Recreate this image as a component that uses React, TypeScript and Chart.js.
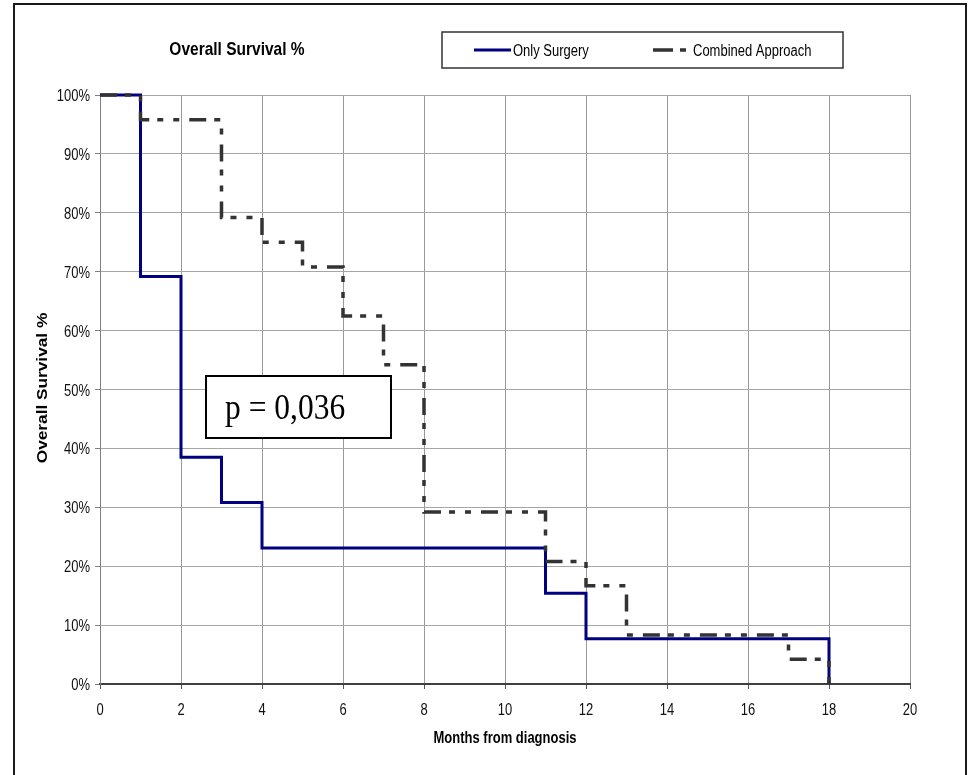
import React, { useEffect, useRef } from "react";
import { Chart, registerables } from "chart.js";

Chart.register(...registerables);

// ---- Data ----
const seriesNames = ["Only Surgery", "Combined Approach"];
const surgeryMonths = [0, 1, 2, 3, 4, 11, 12, 18];
const surgerySurvival = [100, 69.2, 38.5, 30.8, 23.1, 15.4, 7.7, 0];
const combinedMonths = [0, 1, 3, 4, 5, 6, 7, 8, 11, 12, 13, 17, 18];
const combinedSurvival = [100, 95.8, 79.2, 75, 70.8, 62.5, 54.2, 29.2, 20.8, 16.7, 8.3, 4.2, 0];
const xRange = [0, 20];
const xStep = 2;
const yRange = [0, 100];
const yStep = 10;
const chartTitle = "Overall Survival %";
const xAxisTitle = "Months from diagnosis";
const yAxisTitle = "Overall Survival %";
const pValueText = "p = 0,036";

const SANS = "'Liberation Sans', Arial, Helvetica, sans-serif";
const SERIF = "'Liberation Serif', 'Times New Roman', serif";

function drawText(
  ctx: CanvasRenderingContext2D,
  text: string,
  x: number,
  y: number,
  font: string,
  sy: number,
  align: CanvasTextAlign,
  color = "#000"
) {
  ctx.save();
  ctx.translate(x, y);
  ctx.scale(1, sy);
  ctx.font = font;
  ctx.fillStyle = color;
  ctx.textAlign = align;
  ctx.textBaseline = "alphabetic";
  ctx.fillText(text, 0, 0);
  ctx.restore();
}

const decorPlugin = {
  id: "decor",
  afterDraw(chart: any) {
    const ctx: CanvasRenderingContext2D = chart.ctx;
    const ds = chart.data.datasets;
    ctx.save();

    // outer frame
    ctx.strokeStyle = "#1a1a1a";
    ctx.lineWidth = 2;
    ctx.beginPath();
    ctx.moveTo(14, 780);
    ctx.lineTo(14, 4);
    ctx.lineTo(966, 4);
    ctx.lineTo(966, 780);
    ctx.stroke();

    // tick labels (taken from the chart's own scales), slightly tall like the source
    const xs = chart.scales.x;
    const ys = chart.scales.y;
    xs.ticks.forEach((t: any) => {
      const label = xs.getLabelForValue ? String(t.label) : String(t.value);
      drawText(ctx, label, xs.getPixelForValue(t.value), 715, `13px ${SANS}`, 1.2, "center", "#111");
    });
    ys.ticks.forEach((t: any) => {
      drawText(ctx, String(t.label), 90, ys.getPixelForValue(t.value) + 6, `13px ${SANS}`, 1.2, "right", "#111");
    });

    // chart title
    drawText(ctx, chartTitle, 237, 55, `bold 15.5px ${SANS}`, 1.2, "center");

    // legend box
    ctx.fillStyle = "#fff";
    ctx.fillRect(442, 32, 401, 36);
    ctx.strokeStyle = "#333";
    ctx.lineWidth = 1.5;
    ctx.strokeRect(442, 32, 401, 36);

    // legend samples
    const sampleY = 50;
    ctx.lineCap = "butt";
    ctx.strokeStyle = ds[1].borderColor;
    ctx.lineWidth = ds[1].borderWidth;
    ctx.setLineDash([]);
    ctx.beginPath();
    ctx.moveTo(474, sampleY);
    ctx.lineTo(511, sampleY);
    ctx.stroke();
    drawText(ctx, ds[1].label, 513, 56, `13px ${SANS}`, 1.2, "left");

    ctx.strokeStyle = ds[0].borderColor;
    ctx.lineWidth = ds[0].borderWidth;
    ctx.setLineDash([20, 7, 6, 100]);
    ctx.beginPath();
    ctx.moveTo(653, sampleY);
    ctx.lineTo(690, sampleY);
    ctx.stroke();
    ctx.setLineDash([]);
    drawText(ctx, ds[0].label, 693, 56, `13px ${SANS}`, 1.2, "left");

    // p-value box
    ctx.fillStyle = "#fff";
    ctx.fillRect(206, 376, 185, 62);
    ctx.strokeStyle = "#000";
    ctx.lineWidth = 2;
    ctx.strokeRect(206, 376, 185, 62);
    drawText(ctx, pValueText, 225, 419, `31.5px ${SERIF}`, 1.13, "left");

    // axis titles
    drawText(ctx, xAxisTitle, 505, 743, `bold 13px ${SANS}`, 1.2, "center");

    ctx.save();
    ctx.translate(47, 388);
    ctx.rotate(-Math.PI / 2);
    ctx.scale(1.15, 1);
    ctx.font = `bold 15px ${SANS}`;
    ctx.fillStyle = "#000";
    ctx.textAlign = "center";
    ctx.textBaseline = "alphabetic";
    ctx.fillText(yAxisTitle, 0, 0);
    ctx.restore();

    ctx.restore();
  },
};

export default function App() {
  const ref = useRef<HTMLCanvasElement>(null);

  useEffect(() => {
    if (!ref.current) return;
    const chart = new Chart(ref.current, {
      type: "line",
      data: {
        datasets: [
          {
            label: seriesNames[1],
            data: combinedMonths.map((m, i) => ({ x: m, y: combinedSurvival[i] })),
            borderColor: "#333333",
            borderWidth: 3.5,
            borderDash: [17, 8, 6, 10, 6, 10],
            stepped: "before",
            pointRadius: 0,
            fill: false,
            clip: 6,
          },
          {
            label: seriesNames[0],
            data: surgeryMonths.map((m, i) => ({ x: m, y: surgerySurvival[i] })),
            borderColor: "#000080",
            borderWidth: 3,
            stepped: "before",
            pointRadius: 0,
            fill: false,
            clip: 6,
          },
        ],
      },
      options: {
        responsive: false,
        animation: false,
        events: [],
        layout: { padding: { top: 95, right: 58, left: 0, bottom: 0 } },
        plugins: {
          legend: { display: false },
          title: { display: false },
          tooltip: { enabled: false },
        },
        scales: {
          x: {
            type: "linear",
            min: xRange[0],
            max: xRange[1],
            ticks: {
              stepSize: xStep,
              color: "rgba(0,0,0,0)",
              padding: 9,
              maxRotation: 0,
              font: { family: SANS, size: 13 },
            },
            grid: { color: "#999999", lineWidth: 1, tickLength: 5, tickColor: "#555" },
            border: { color: "#404040", width: 2 },
            afterFit: (s: any) => {
              s.height = 91;
            },
          },
          y: {
            type: "linear",
            min: yRange[0],
            max: yRange[1],
            ticks: {
              stepSize: yStep,
              color: "rgba(0,0,0,0)",
              padding: 5,
              font: { family: SANS, size: 13 },
              callback: (v: any) => `${v}%`,
            },
            grid: { color: "#a6a6a6", lineWidth: 1, tickLength: 5, tickColor: "#808080" },
            border: { color: "#808080", width: 1 },
            afterFit: (s: any) => {
              s.width = 100;
            },
          },
        },
      },
      plugins: [decorPlugin],
    } as any);
    return () => chart.destroy();
  }, []);

  return (
    <div
      style={{
        position: "absolute",
        left: 0,
        top: 0,
        width: 968,
        height: 775,
        background: "#fff",
        overflow: "hidden",
      }}
    >
      <canvas ref={ref} width={968} height={775} style={{ display: "block", width: 968, height: 775 }} />
    </div>
  );
}
